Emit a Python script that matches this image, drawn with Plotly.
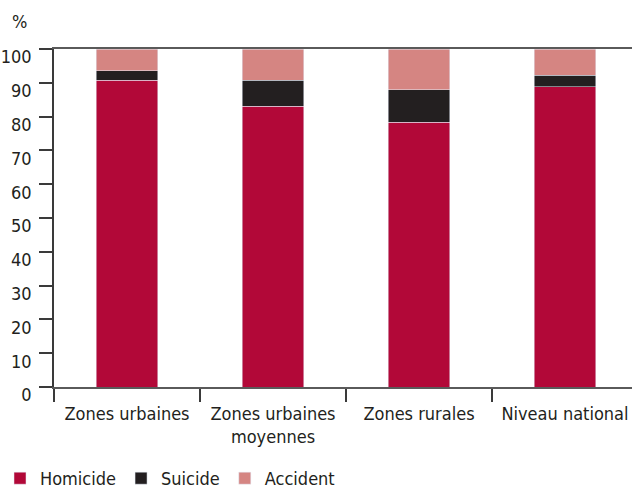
import plotly.graph_objects as go

categories = ["Zones urbaines", "Zones urbaines<br>moyennes", "Zones rurales", "Niveau national"]
homicide = [90.8, 83.1, 78.4, 88.8]
suicide = [2.7, 7.7, 9.5, 3.5]
accident = [6.5, 9.2, 12.1, 7.7]
y_ticks = [0, 10, 20, 30, 40, 50, 60, 70, 80, 90, 100]

FONT = "DejaVu Sans Condensed, Liberation Sans Narrow, sans-serif"
TXT = "#231f20"

fig = go.Figure()
fig.add_bar(name="Homicide", x=categories, y=homicide, marker_color="#b20838", width=0.42)
fig.add_bar(name="Suicide", x=categories, y=suicide, marker_color="#231f20", width=0.42)
fig.add_bar(name="Accident", x=categories, y=accident, marker_color="#d58582", width=0.42)

fig.update_layout(
    barmode="stack",
    width=632, height=490,
    margin=dict(l=54, r=0, t=49, b=103),
    paper_bgcolor="white", plot_bgcolor="white",
    font=dict(family=FONT, size=18, color=TXT),
    showlegend=True,
    legend=dict(orientation="h", xref="container", x=-0.008, xanchor="left",
                yref="container", y=(490 - 460) / 490, yanchor="top",
                font=dict(size=18, color=TXT), traceorder="normal", itemwidth=30),
    bargap=0.58,
)
fig.update_xaxes(
    range=[-0.5, 3.459], showgrid=False, showline=True, mirror=True,
    linecolor="#5a5a5a", linewidth=1.8,
    ticks="outside", tickson="boundaries", ticklen=13, tickcolor="#3a3a3a", tickwidth=1.5,
    tickfont=dict(size=18, color=TXT), ticklabelstandoff=9,
)
fig.update_yaxes(
    range=[0, 100], tickvals=y_ticks, showgrid=False, zeroline=False,
    showline=True, linecolor="#3a3a3a", linewidth=1.5,
    ticks="outside", ticklen=13, tickcolor="#3a3a3a", tickwidth=1.5,
    tickfont=dict(size=18, color=TXT), ticklabelshift=8, ticklabelstandoff=4,
)
fig.add_annotation(text="%", xref="paper", yref="paper", x=(10 - 54) / 578, y=1 + (49 - 22) / 338,
                   xanchor="left", yanchor="middle", showarrow=False, font=dict(size=18, color=TXT))

fig.write_html("out.html")
